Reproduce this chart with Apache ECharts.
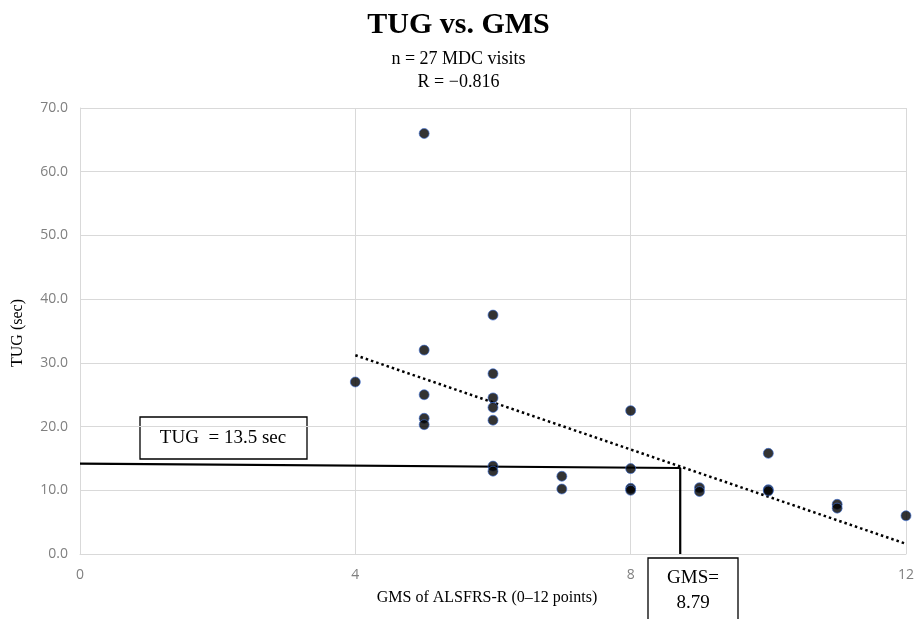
<!DOCTYPE html>
<html>
<head>
<meta charset="utf-8">
<script src="https://cdn.jsdelivr.net/npm/echarts@6/dist/echarts.min.js"></script>
<style>
  html, body { margin: 0; padding: 0; background: #fff; }
  #chart { width: 917px; height: 619px; }
</style>
</head>
<body>
<div id="chart"></div>
<script>
// GMS score (x) and TUG seconds (y) for each MDC visit
const gms = [4, 5, 5, 5, 5, 5, 6, 6, 6, 6, 6, 6, 6, 7, 7, 8, 8, 8, 8, 9, 9, 10, 10, 10, 11, 11, 12];
const tug = [27.0, 66.0, 32.0, 25.0, 21.3, 20.3, 37.5, 28.3, 24.5, 23.0, 21.0, 13.8, 13.0, 12.2, 10.2,
             22.5, 13.4, 10.3, 10.0, 10.4, 9.8, 15.8, 10.1, 9.9, 7.8, 7.2, 6.0];
// linear trend end points
const trendX = [4, 12];
const trendY = [31.2, 1.6];
// cut-off guide: TUG 13.5 sec -> GMS 8.79
const guideX = [0, 8.72, 8.72];
const guideY = [14.2, 13.5, 0];

const xTicks = [0, 4, 8, 12];
const yMax = 70;

const points = gms.map((g, i) => [g, tug[i]]);
const trend = trendX.map((x, i) => [x, trendY[i]]);
const guide = guideX.map((x, i) => [x, guideY[i]]);

const serif = '"Liberation Serif", "Times New Roman", serif';
const tickFont = '"Open Sans", "Liberation Sans", sans-serif';

const chart = echarts.init(document.getElementById('chart'));
chart.setOption({
  backgroundColor: '#fff',
  animation: false,
  title: [
    { text: 'TUG vs. GMS', left: 'center', top: 5,
      textStyle: { fontFamily: serif, fontSize: 30, fontWeight: 'bold', color: '#000' } },
    { text: 'n = 27 MDC visits', left: 'center', top: 45,
      textStyle: { fontFamily: serif, fontSize: 18, fontWeight: 'normal', color: '#000' } },
    { text: 'R = \u22120.816', left: 'center', top: 68,
      textStyle: { fontFamily: serif, fontSize: 18, fontWeight: 'normal', color: '#000' } }
  ],
  grid: { left: 80, right: 9, top: 108, bottom: 65 },
  xAxis: {
    type: 'value', min: 0, max: 12, interval: 4,
    axisLine: { show: true, lineStyle: { color: '#d9d9d9', width: 1 } },
    axisTick: { show: false },
    axisLabel: { color: '#808080', fontFamily: tickFont, fontSize: 14, margin: 14,
      formatter: v => xTicks.includes(v) ? String(v) : '' },
    splitLine: { show: true, lineStyle: { color: '#d9d9d9', width: 1 } }
  },
  yAxis: {
    type: 'value', min: 0, max: yMax, interval: 10,
    axisLine: { show: true, lineStyle: { color: '#d9d9d9', width: 1 } },
    axisTick: { show: false },
    axisLabel: { color: '#808080', fontFamily: tickFont, fontSize: 14, margin: 12,
      formatter: v => v.toFixed(1) },
    splitLine: { show: true, lineStyle: { color: '#d9d9d9', width: 1 } }
  },
  series: [
    {
      type: 'line', data: trend, symbol: 'none', z: 3,
      lineStyle: { color: '#000', width: 2.5, type: [2.5, 3] }
    },
    {
      type: 'line', data: guide, symbol: 'none', z: 4,
      lineStyle: { color: '#000', width: 2.2 }
    },
    {
      type: 'scatter', data: points, symbol: 'circle', symbolSize: 10, z: 5,
      itemStyle: { color: '#000', borderColor: '#3d6fd6', borderWidth: 0.8 }
    }
  ],
  graphic: [
    {
      type: 'text', position: [18, 333], rotation: Math.PI / 2,
      style: { text: 'TUG (sec)', font: '16px ' + serif, fill: '#000',
        textAlign: 'center', textVerticalAlign: 'middle' }
    },
    {
      type: 'text', position: [487, 598],
      style: { text: 'GMS of ALSFRS-R (0\u201312 points)', font: '16px ' + serif, fill: '#000',
        textAlign: 'center', textVerticalAlign: 'middle' }
    },
    {
      type: 'group', position: [140, 417], z: 100,
      children: [
        { type: 'rect', shape: { x: 0, y: 0, width: 167, height: 42 },
          style: { fill: '#fff', stroke: '#000', lineWidth: 1.3 } },
        { type: 'text', style: { x: 83, y: 21, text: 'TUG  = 13.5 sec', font: '19px ' + serif,
          fill: '#000', textAlign: 'center', textVerticalAlign: 'middle' } }
      ]
    },
    {
      type: 'group', position: [648, 558], z: 100,
      children: [
        { type: 'rect', shape: { x: 0, y: 0, width: 90, height: 70 },
          style: { fill: '#fff', stroke: '#000', lineWidth: 1.3 } },
        { type: 'text', style: { x: 45, y: 20, text: 'GMS=', font: '19px ' + serif,
          fill: '#000', textAlign: 'center', textVerticalAlign: 'middle' } },
        { type: 'text', style: { x: 45, y: 45, text: '8.79', font: '19px ' + serif,
          fill: '#000', textAlign: 'center', textVerticalAlign: 'middle' } }
      ]
    }
  ]
});
</script>
</body>
</html>
